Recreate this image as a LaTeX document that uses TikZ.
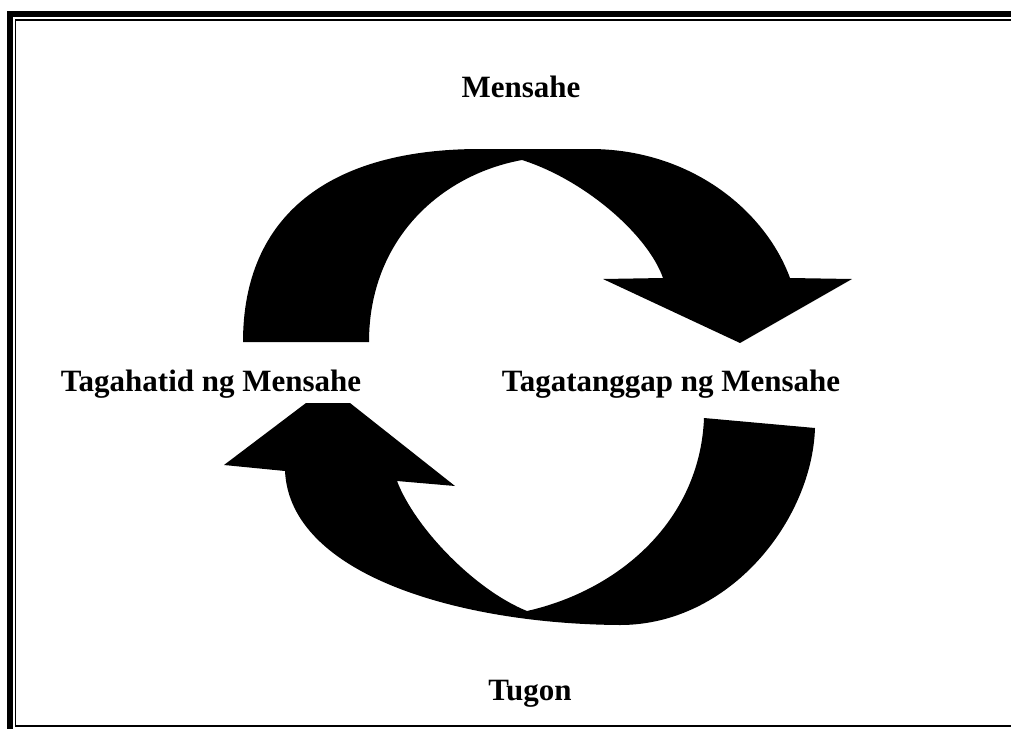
\documentclass[tikz,border=0pt]{standalone}
\usepackage{fontspec}
\setmainfont{Liberation Serif}
\begin{document}
\begin{tikzpicture}[x=1pt,y=-1pt,
  lbl/.style={font=\bfseries\fontsize{31}{37}\selectfont, anchor=base, inner sep=0pt},
  blob/.style={fill=black, draw=none},
  thickframe/.style={draw=black, line width=6pt},
  thinframe/.style={draw=black, line width=1.5pt}]
\useasboundingbox[fill=white] (0,0) rectangle (1011,728);
% frame
\draw[thickframe] (10,14) rectangle (1030,740);
\draw[thinframe] (15.5,20) rectangle (1020,726);
% top curved arrow (Mensahe)
\path[blob] (243,342) .. controls (243,215) and (330,149) .. (480,149)
  -- (590,149) .. controls (690,149) and (765,210) .. (790,278)
  -- (852,279) -- (740,343) -- (603,279) -- (663,278)
  .. controls (648,235) and (585,180) .. (522,160)
  .. controls (440,175) and (369,240) .. (369,342) -- cycle;
% bottom curved arrow (Tugon)
\path[blob] (704,418) -- (815,428)
  .. controls (812,520) and (730,625) .. (620,625)
  .. controls (460,624) and (290,575) .. (285,471)
  -- (224,465) -- (306,403) -- (350,403) -- (455,486) -- (397,481)
  .. controls (415,528) and (475,590) .. (527,611)
  .. controls (620,590) and (700,520) .. (704,418) -- cycle;
% labels
\node[lbl] (msg) at (521,97) {Mensahe};
\node[lbl] (snd) at (211,391) {Tagahatid ng Mensahe};
\node[lbl] (rcv) at (671,391) {Tagatanggap ng Mensahe};
\node[lbl] (tug) at (530,700) {Tugon};
\end{tikzpicture}
\end{document}
